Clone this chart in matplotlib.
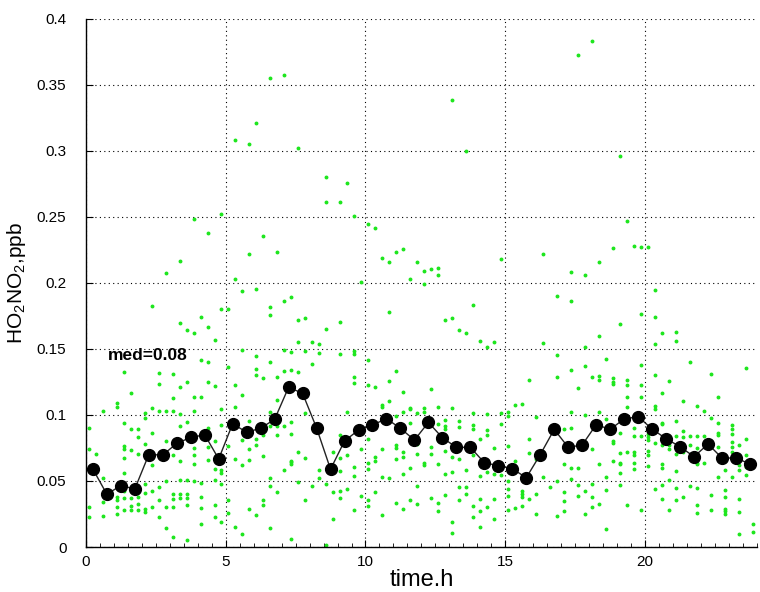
import numpy as np
import matplotlib
matplotlib.use("Agg")
import matplotlib.pyplot as plt
from matplotlib.ticker import MultipleLocator, FormatStrFormatter

plt.rcParams['font.family'] = ['Liberation Sans', 'DejaVu Sans']
plt.rcParams['mathtext.fontset'] = 'custom'
plt.rcParams['mathtext.rm'] = 'Liberation Sans'
plt.rcParams['mathtext.default'] = 'regular'

# half-hourly medians (black line)
med_time = [0.25 + 0.5 * i for i in range(48)]
med_vals = [0.059, 0.040, 0.0465, 0.044, 0.070, 0.0697, 0.0785, 0.083, 0.085, 0.0667,
            0.0934, 0.0869, 0.090, 0.0967, 0.121, 0.1164, 0.0902, 0.0589, 0.0803, 0.0886,
            0.0924, 0.0972, 0.0899, 0.081, 0.0944, 0.0828, 0.0755, 0.0755, 0.0639, 0.0616,
            0.0593, 0.0525, 0.070, 0.0891, 0.0755, 0.0773, 0.0927, 0.0891, 0.097, 0.0987,
            0.0894, 0.082, 0.076, 0.0684, 0.078, 0.0674, 0.0674, 0.0629]

# raw measurements, one list per 15-minute slot (green dots)
slot_start = 0.1
slot_step = 0.25
raw_vals = [
    [0.090, 0.0745, 0.0303, 0.0228],
    [0.0705],
    [0.1027, 0.052, 0.034, 0.0233],
    [],
    [0.109, 0.106, 0.038, 0.0355, 0.0305, 0.0253],
    [0.1328, 0.0937, 0.0768, 0.0743, 0.0678, 0.0558, 0.0428, 0.0373, 0.028],
    [0.1165, 0.0895, 0.0733, 0.0425, 0.037, 0.0313, 0.0283],
    [0.0895, 0.083, 0.0708, 0.0378, 0.0328, 0.0278],
    [0.1015, 0.0975, 0.0778, 0.0478, 0.041, 0.0288, 0.0268],
    [0.1828, 0.1053, 0.0863, 0.062, 0.0428, 0.0305],
    [0.132, 0.1238, 0.1033, 0.0453, 0.0355, 0.023],
    [0.2073, 0.1033, 0.0803, 0.0498, 0.0303, 0.0145],
    [0.131, 0.1128, 0.1033, 0.07, 0.04, 0.0365, 0.030, 0.0075],
    [0.2169, 0.1695, 0.121, 0.1008, 0.0913, 0.0648, 0.0505, 0.04, 0.0368],
    [0.1645, 0.1253, 0.095, 0.0505, 0.04, 0.0368, 0.032, 0.005],
    [0.2485, 0.1618, 0.114, 0.1033, 0.0753, 0.0695, 0.0628, 0.0503],
    [0.174, 0.1413, 0.114, 0.0483, 0.0378, 0.0293, 0.0178],
    [0.238, 0.167, 0.1403, 0.1253, 0.09, 0.0758, 0.0658],
    [0.157, 0.122, 0.0805, 0.0593, 0.051, 0.032, 0.023],
    [0.2523, 0.1803, 0.1048, 0.0925, 0.0583, 0.0558, 0.0478, 0.019],
    [0.1803, 0.1365, 0.0763, 0.0353, 0.0258],
    [0.3083, 0.203, 0.1225, 0.1058, 0.067, 0.015],
    [0.1937, 0.1495, 0.1153, 0.0808, 0.062, 0.01],
    [0.305, 0.2217, 0.0955, 0.0743, 0.0658, 0.029],
    [0.321, 0.1957, 0.145, 0.135, 0.13, 0.082, 0.0775, 0.0243],
    [0.2358, 0.1283, 0.085, 0.0693, 0.0353, 0.032],
    [0.3556, 0.1816, 0.176, 0.1398, 0.1025, 0.092, 0.0525, 0.0465, 0.0145],
    [0.2232, 0.1288, 0.1113, 0.092, 0.0845, 0.0413],
    [0.3579, 0.1861, 0.149, 0.1333, 0.092, 0.058],
    [0.1894, 0.1475, 0.134, 0.0945, 0.0858, 0.065, 0.0645, 0.063, 0.0058],
    [0.302, 0.172, 0.155, 0.1328, 0.072, 0.0495],
    [0.1732, 0.1483, 0.1015, 0.0678, 0.0353],
    [0.155, 0.1388, 0.0463],
    [0.1538, 0.147, 0.0583, 0.052],
    [0.2801, 0.2616, 0.1652, 0.0478, 0.0015],
    [0.0718, 0.0413, 0.0213],
    [0.2616, 0.1707, 0.1465, 0.085, 0.0678, 0.0578, 0.0428, 0.037],
    [0.2755, 0.102, 0.0695, 0.0438],
    [0.2505, 0.1483, 0.1465, 0.129, 0.1245, 0.0608, 0.0538, 0.0283],
    [0.201, 0.0745, 0.0383],
    [0.2447, 0.142, 0.1225, 0.082, 0.0638, 0.059, 0.0358, 0.0313],
    [0.2417, 0.121, 0.068, 0.0653, 0.042],
    [0.2189, 0.1075, 0.1063, 0.074, 0.0533, 0.0245],
    [0.2162, 0.1783, 0.1258, 0.1103, 0.0958, 0.052],
    [0.2232, 0.1333, 0.0995, 0.077, 0.075, 0.067, 0.033],
    [0.226, 0.1173, 0.102, 0.072, 0.0685, 0.0555, 0.0285],
    [0.2033, 0.1055, 0.1045, 0.094, 0.0595, 0.0355],
    [0.2157, 0.1015, 0.0778, 0.0708, 0.0465, 0.0325],
    [0.2088, 0.1995, 0.1055, 0.102, 0.0638, 0.062],
    [0.2104, 0.12, 0.0755, 0.0703, 0.037],
    [0.2114, 0.2061, 0.1058, 0.0933, 0.0808, 0.0625, 0.0335, 0.0273],
    [0.1722, 0.0965, 0.0913, 0.0895, 0.0728, 0.0555, 0.0393],
    [0.3389, 0.1732, 0.105, 0.068, 0.057, 0.0193, 0.0105],
    [0.1646, 0.0958, 0.091, 0.067, 0.0455, 0.0355],
    [0.30, 0.1624, 0.0585, 0.0453, 0.0405],
    [0.1831, 0.1013, 0.0923, 0.0893, 0.0695, 0.031, 0.023],
    [0.1561, 0.0818, 0.0538, 0.0363, 0.027, 0.0153],
    [0.1518, 0.101, 0.0883, 0.085, 0.057, 0.03],
    [0.155, 0.075, 0.0553, 0.0363, 0.021],
    [0.218, 0.1013, 0.0928, 0.0548],
    [0.102, 0.0993, 0.0763, 0.0503, 0.0438, 0.0383, 0.0278],
    [0.1075, 0.0653, 0.0295],
    [0.1083, 0.0425, 0.0403, 0.0378, 0.0313],
    [0.1265, 0.082, 0.0715, 0.0363],
    [0.0983, 0.067, 0.0398, 0.025],
    [0.2217, 0.1545, 0.072, 0.0528],
    [0.0458],
    [0.1904, 0.1455, 0.129, 0.0503, 0.0238],
    [0.0895, 0.0628, 0.042, 0.035, 0.027],
    [0.2081, 0.1861, 0.134, 0.1025, 0.0903, 0.06, 0.0515],
    [0.3727, 0.1205, 0.06, 0.047, 0.0388],
    [0.2061, 0.1518, 0.137, 0.0998, 0.0425, 0.025],
    [0.3831, 0.1285, 0.0745, 0.048, 0.0378, 0.0303],
    [0.2162, 0.1598, 0.1298, 0.1263, 0.102, 0.0625, 0.0328],
    [0.1425, 0.097, 0.0528, 0.043, 0.0138],
    [0.2265, 0.1278, 0.1248, 0.1235, 0.08, 0.0788, 0.065],
    [0.296, 0.1687, 0.086, 0.071, 0.064, 0.0628, 0.0558, 0.0468],
    [0.247, 0.1268, 0.1228, 0.1138, 0.1063, 0.0723, 0.0315],
    [0.2283, 0.0903, 0.084, 0.072, 0.0695, 0.064, 0.0593],
    [0.2273, 0.1765, 0.1378, 0.1225, 0.1133, 0.084, 0.0278],
    [0.2273, 0.0853, 0.0833, 0.0808, 0.073, 0.07, 0.0615],
    [0.1949, 0.1742, 0.1538, 0.1305, 0.1065, 0.1045, 0.079, 0.0443],
    [0.1621, 0.1168, 0.094, 0.093, 0.0775, 0.0625, 0.06, 0.047, 0.0363],
    [0.1255, 0.0775, 0.074, 0.0505, 0.028],
    [0.1626, 0.1558, 0.0955, 0.084, 0.0705, 0.0573, 0.0448, 0.0358],
    [0.1108, 0.088, 0.083, 0.0723, 0.0378],
    [0.1398, 0.084, 0.077, 0.0463],
    [0.1068, 0.0838, 0.0748, 0.064, 0.0628, 0.045, 0.0315, 0.0258],
    [0.1028, 0.0838, 0.0635],
    [0.131, 0.098, 0.0395, 0.0278],
    [0.114, 0.0943, 0.0863, 0.0845, 0.076, 0.0533],
    [0.0585, 0.0435, 0.0378, 0.029, 0.027, 0.0253],
    [0.0925, 0.0895, 0.0853, 0.0795, 0.0758, 0.072, 0.0678, 0.0528],
    [0.077, 0.062, 0.058, 0.0363, 0.0263, 0.01],
    [0.1355, 0.082, 0.0695, 0.0605, 0.0548],
    [0.0175, 0.0115],
]

med_label = 'med=0.08'

raw_t = []
raw_v = []
for k, vals in enumerate(raw_vals):
    for v in vals:
        raw_t.append(slot_start + slot_step * k)
        raw_v.append(v)

fig = plt.figure(figsize=(7.6, 5.92), dpi=100)
ax = fig.add_axes([0.113, 0.076, 0.883, 0.892])

ax.plot(raw_t, raw_v, '.', color='#1ee61e', markersize=3.6, zorder=2)
ax.plot(med_time, med_vals, '-', color='#222222', linewidth=1.0, zorder=3)
ax.plot(med_time, med_vals, 'o', color='black', markersize=8.5, zorder=4)

ax.text(0.8, 0.145, med_label, fontsize=12.5, fontweight='bold', va='center')

ax.set_xlim(0, 24)
ax.set_ylim(0, 0.4)
ax.xaxis.set_major_locator(MultipleLocator(5))
ax.xaxis.set_minor_locator(MultipleLocator(0.5))
ax.yaxis.set_major_locator(MultipleLocator(0.05))
ax.yaxis.set_major_formatter(FormatStrFormatter('%g'))

ax.grid(True, which='major', color='black', linestyle=(0, (1, 3)), linewidth=0.8)
ax.set_axisbelow(True)
ax.tick_params(which='both', direction='in', labelsize=11, top=False, right=False)
ax.tick_params(axis='y', which='major', length=5, pad=14)
ax.tick_params(axis='x', which='major', length=5, pad=6)
ax.tick_params(which='minor', length=3)
for side in ['top', 'right']:
    ax.spines[side].set_visible(False)
for side in ['left', 'bottom']:
    ax.spines[side].set_linewidth(1.0)

ax.set_xlabel('time.h', fontsize=17, labelpad=0)
ax.set_ylabel('HO$_2$NO$_2$,ppb', fontsize=15, labelpad=6)

fig.savefig('out.png', dpi=100)
